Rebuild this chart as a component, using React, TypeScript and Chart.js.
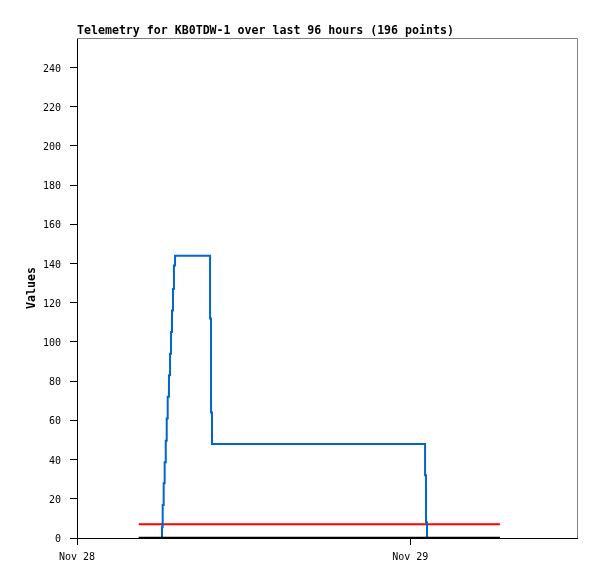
import React, { useEffect, useRef } from "react";
import { Chart, registerables } from "chart.js";

Chart.register(...registerables);

const titleText = "Telemetry for KB0TDW-1 over last 96 hours (196 points)";
const yAxisTitle = "Values";

// x in hours since Nov 28 00:00
const xTickValues = [0, 24];
const xTickLabels = ["Nov 28", "Nov 29"];
const yTickValues = [0, 20, 40, 60, 80, 100, 120, 140, 160, 180, 200, 220, 240];

const blueHours = [
  4.45, 6.12, 6.17, 6.24, 6.31, 6.39, 6.46, 6.53, 6.62, 6.7, 6.77, 6.84, 6.91,
  6.98, 7.06, 9.58, 9.65, 9.72, 25.06, 25.13, 25.2, 30.45,
];
const blueValues = [
  0, 5.8, 16.8, 27.9, 38.6, 49.6, 61, 72, 83, 94, 105, 116, 127, 139, 144, 112,
  64, 48, 32, 8, 0, 0,
];

const redHours = [4.45, 30.45];
const redValues = [7, 7];

const blackHours = [4.45, 30.45];
const blackValues = [0, 0];

const toPoints = (xs: number[], ys: number[]) =>
  xs.map((x, i) => ({ x, y: ys[i] }));

const decor = {
  id: "decor",
  afterDraw(chart: any) {
    const { ctx, chartArea: a } = chart;
    ctx.save();
    ctx.strokeStyle = "#808080";
    ctx.lineWidth = 1;
    ctx.beginPath();
    ctx.moveTo(Math.round(a.left), Math.round(a.top) + 0.5);
    ctx.lineTo(Math.round(a.right) + 0.5, Math.round(a.top) + 0.5);
    ctx.lineTo(Math.round(a.right) + 0.5, Math.round(a.bottom));
    ctx.stroke();
    ctx.fillStyle = "#000";
    ctx.font = 'bold 11.6px "DejaVu Sans Mono"';
    ctx.textBaseline = "middle";
    ctx.textAlign = "left";
    ctx.fillText(titleText, a.left, 30.5);
    ctx.translate(32, (a.top + a.bottom) / 2);
    ctx.rotate(-Math.PI / 2);
    ctx.textAlign = "center";
    ctx.fillText(yAxisTitle, 0, 0);
    ctx.restore();
  },
};

export default function App() {
  const ref = useRef<HTMLCanvasElement>(null);
  useEffect(() => {
    if (!ref.current) return;
    const chart = new Chart(ref.current, {
      type: "line",
      data: {
        datasets: [
          {
            data: toPoints(blackHours, blackValues),
            borderColor: "#000000",
            borderWidth: 2.5,
            pointRadius: 0,
            fill: false,
          },
          {
            data: toPoints(blueHours, blueValues),
            borderColor: "#0066cc",
            borderWidth: 2,
            pointRadius: 0,
            stepped: true,
            fill: false,
          },
          {
            data: toPoints(redHours, redValues),
            borderColor: "#ff0000",
            borderWidth: 2,
            pointRadius: 0,
            fill: false,
          },
        ],
      },
      options: {
        responsive: false,
        animation: false,
        events: [],
        layout: { padding: { top: 38, right: 20, left: 0, bottom: 0 } },
        plugins: {
          legend: { display: false },
          title: { display: false },
          tooltip: { enabled: false },
        },
        scales: {
          x: {
            type: "linear",
            min: 0,
            max: 36,
            afterFit: (s: any) => {
              s.height = 41;
            },
            afterBuildTicks: (s: any) => {
              s.ticks = xTickValues.map((v) => ({ value: v }));
            },
            grid: {
              drawOnChartArea: false,
              drawTicks: true,
              tickLength: 7,
              color: "#000",
            },
            border: { display: true, color: "#000", width: 1 },
            ticks: {
              autoSkip: false,
              maxRotation: 0,
              padding: 6,
              color: "#000",
              font: { family: '"DejaVu Sans Mono"', size: 10 },
              callback: (v: any) => {
                const i = xTickValues.indexOf(Number(v));
                return i >= 0 ? xTickLabels[i] : "";
              },
            },
          },
          y: {
            type: "linear",
            min: 0,
            max: 255,
            afterFit: (s: any) => {
              s.width = 77;
            },
            afterBuildTicks: (s: any) => {
              s.ticks = yTickValues.map((v) => ({ value: v }));
            },
            grid: {
              drawOnChartArea: false,
              drawTicks: true,
              tickLength: 7,
              color: "#000",
            },
            border: { display: true, color: "#000", width: 1 },
            ticks: {
              autoSkip: false,
              padding: 9,
              labelOffset: 1.5,
              color: "#000",
              font: { family: '"DejaVu Sans Mono"', size: 10 },
              callback: (v: any) => String(v),
            },
          },
        },
      },
      plugins: [decor],
    });
    return () => chart.destroy();
  }, []);
  return (
    <div style={{ position: "fixed", left: 0, top: 0, width: 597, height: 579, background: "#fff" }}>
      <canvas ref={ref} width={597} height={579} style={{ display: "block" }} />
    </div>
  );
}
